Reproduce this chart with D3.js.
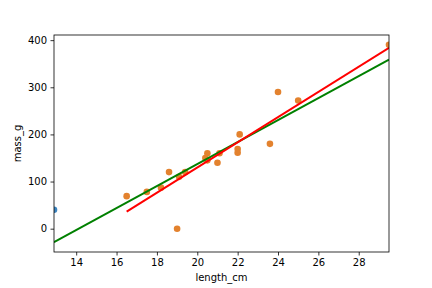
<!DOCTYPE html>
<html><head><meta charset="utf-8">
<script src="https://cdn.jsdelivr.net/npm/d3@7"></script>
<style>body{margin:0;background:#fff}svg{display:block;font-family:"DejaVu Sans",sans-serif}</style>
</head><body><svg id="c" width="432" height="288"></svg>
<script>
// Roach: length_cm vs mass_g
const length_cm = [12.9,16.5,17.5,18.2,18.6,19.0,19.1,19.4,20.4,20.5,20.5,21.0,21.1,22.0,22.0,22.1,23.6,24.0,25.0,29.5];
const mass_g    = [40,69,78,87,120,0,110,120,150,145,160,140,160,169,161,200,180,290,272,390];
const highlightStart = 1; // points from this index on are drawn orange and fitted by the red line
const xTicks = [14,16,18,20,22,24,26,28];
const yTicks = [0,100,200,300,400];

const W=432,H=288, L=54, R=389, T=35, B=252;
const svg=d3.select("#c");

function fit(xs, ys){
  const n=xs.length, mx=d3.mean(xs), my=d3.mean(ys);
  let sxy=0, sxx=0;
  for(let i=0;i<n;i++){sxy+=(xs[i]-mx)*(ys[i]-my); sxx+=(xs[i]-mx)**2;}
  const b=sxy/sxx, a=my-b*mx;
  const x0=d3.min(xs), x1=d3.max(xs);
  return [[x0,a+b*x0],[x1,a+b*x1]];
}
const all = fit(length_cm, mass_g);
const sub = fit(length_cm.slice(highlightStart), mass_g.slice(highlightStart));

const x=d3.scaleLinear().domain(d3.extent(length_cm)).range([L,R]);
let ymin=Math.min(d3.min(mass_g), all[0][1], all[1][1], sub[0][1], sub[1][1]);
let ymax=Math.max(d3.max(mass_g), all[0][1], all[1][1], sub[0][1], sub[1][1]);
const pad=(ymax-ymin)*0.05;
const y=d3.scaleLinear().domain([ymin-pad, ymax+pad]).range([B,T]);

svg.append("defs").append("clipPath").attr("id","clip")
  .append("rect").attr("x",L).attr("y",T).attr("width",R-L).attr("height",B-T);

const g=svg.append("g").attr("clip-path","url(#clip)");
const pts=length_cm.map((v,i)=>({x:v,y:mass_g[i],i}));
g.selectAll("circle").data(pts).enter().append("circle")
  .attr("cx",d=>x(d.x)).attr("cy",d=>y(d.y)).attr("r",3.3)
  .attr("fill",d=>d.i<highlightStart?"#3b84c0":"#e3822e");

const line=d3.line().x(d=>x(d[0])).y(d=>y(d[1]));
g.append("path").attr("d",line(all)).attr("stroke","#008000").attr("stroke-width",2).attr("fill","none");
g.append("path").attr("d",line(sub)).attr("stroke","#ff0000").attr("stroke-width",2).attr("fill","none");

const xa=svg.append("g").attr("transform",`translate(0,${B})`)
  .call(d3.axisBottom(x).tickValues(xTicks).tickSize(3.5).tickPadding(3.5).tickFormat(d3.format("d")));
const ya=svg.append("g").attr("transform",`translate(${L},0)`)
  .call(d3.axisLeft(y).tickValues(yTicks).tickSize(3.5).tickPadding(3.5).tickFormat(d3.format("d")));
[xa,ya].forEach(a=>{a.select(".domain").remove();
  a.selectAll("text").attr("font-size",10).attr("fill","#000").attr("font-family","DejaVu Sans");
  a.selectAll("line").attr("stroke","#000").attr("stroke-width",0.8);});

svg.append("rect").attr("x",L).attr("y",T).attr("width",R-L).attr("height",B-T)
  .attr("fill","none").attr("stroke","#000").attr("stroke-width",0.8);

svg.append("text").attr("x",(L+R)/2).attr("y",281).attr("text-anchor","middle")
  .attr("font-size",10).text("length_cm");
svg.append("text").attr("transform",`translate(21,${(T+B)/2}) rotate(-90)`).attr("text-anchor","middle")
  .attr("font-size",10).text("mass_g");
</script></body></html>
